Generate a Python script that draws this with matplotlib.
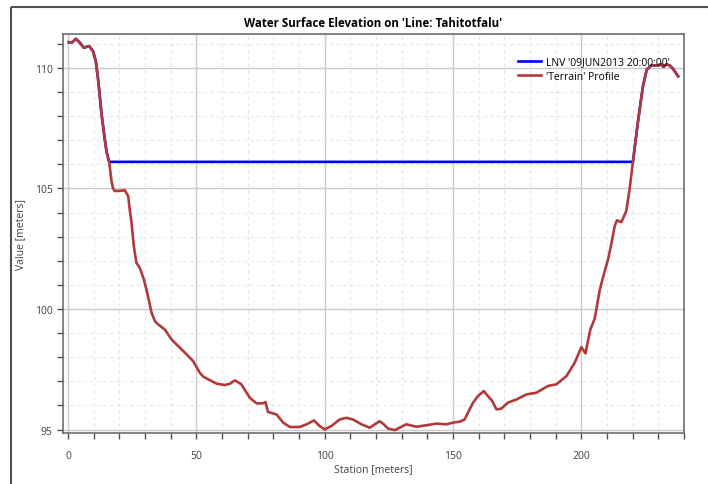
import matplotlib
matplotlib.use("Agg")
import matplotlib.pyplot as plt
from matplotlib.lines import Line2D
from matplotlib.ticker import MultipleLocator
import numpy as np

plt.rcParams['font.family'] = ['Open Sans', 'DejaVu Sans']

# terrain profile (station m, elevation m)
station = [0.3, 1.5, 3.0, 4.5, 6.1, 8.2, 9.7, 10.8, 11.7, 13.0, 14.2, 15.0, 16.0,
           16.9, 17.5, 18.2, 20.1, 22.1, 23.4, 24.0, 24.7, 25.6, 26.6, 27.9, 29.5,
           30.8, 32.5, 33.8, 35.1, 37.7, 40.3, 42.9, 45.5, 48.7, 50.0, 51.3, 52.6,
           55.2, 58.0, 61.0, 63.0, 65.0, 67.5, 70.8, 73.4, 75.9, 76.9, 77.9, 81.2,
           83.8, 86.4, 90.3, 92.9, 95.8, 98.0, 100.0, 102.6, 105.8, 108.5, 111.0,
           114.3, 117.5, 119.5, 121.4, 123.0, 124.7, 127.3, 129.2, 131.8, 135.7,
           139.6, 143.5, 147.4, 150.0, 152.6, 154.5, 155.8, 157.8, 159.7, 162.0,
           163.6, 165.3, 166.9, 168.8, 171.4, 174.7, 178.6, 182.5, 187.0, 190.3,
           194.2, 197.4, 200.0, 201.6, 202.3, 203.5, 205.2, 207.1, 208.4, 210.4,
           211.5, 213.0, 213.9, 215.6, 217.5, 218.8, 220.1, 222.0, 224.0, 225.5,
           227.3, 229.8, 231.1, 232.0, 233.1, 234.4, 235.7, 237.7]
elevation = [111.06, 111.05, 111.2, 111.05, 110.83, 110.9, 110.69, 110.27, 109.5,
             108.1, 107.1, 106.5, 106.1, 105.3, 105.0, 104.89, 104.9, 104.92,
             104.68, 104.13, 103.58, 102.6, 101.92, 101.71, 101.23, 100.68, 99.85,
             99.5, 99.36, 99.15, 98.74, 98.46, 98.19, 97.84, 97.6, 97.36, 97.2,
             97.05, 96.9, 96.85, 96.9, 97.04, 96.88, 96.32, 96.09, 96.09, 96.14,
             95.73, 95.63, 95.29, 95.11, 95.11, 95.22, 95.38, 95.15, 95.01, 95.15,
             95.42, 95.49, 95.42, 95.22, 95.08, 95.22, 95.35, 95.22, 95.04, 94.98,
             95.08, 95.22, 95.12, 95.18, 95.25, 95.22, 95.29, 95.33, 95.42, 95.7,
             96.12, 96.39, 96.6, 96.39, 96.18, 95.84, 95.87, 96.12, 96.25, 96.46,
             96.53, 96.81, 96.88, 97.22, 97.77, 98.42, 98.16, 98.53, 99.15, 99.6,
             100.75, 101.3, 102.06, 102.6, 103.44, 103.68, 103.6, 104.06, 104.96,
             106.1, 107.72, 109.24, 109.93, 110.1, 110.1, 110.14, 110.04, 110.14,
             110.1, 109.96, 109.65]

wse = 106.1
wse_label = "LNV '09JUN2013 20:00:00'"
terrain_label = "'Terrain' Profile"

station = np.array(station)
elevation = np.array(elevation)
# water line follows the ground where dry
water = np.maximum(elevation, wse)

fig = plt.figure(figsize=(7.08, 4.85), dpi=100)
ax = fig.add_axes([63 / 708, 1 - 434 / 485, (684 - 63) / 708, (434 - 35) / 485])

ax.plot(station, water, color='#0000ff', lw=1.9, label=wse_label, zorder=3)
ax.plot(station, elevation, color='#b03a3c', lw=1.9, label=terrain_label, zorder=4,
        solid_joinstyle='round')

ax.set_xlim(-2, 240)
ax.set_ylim(94.86, 111.4)
ax.xaxis.set_major_locator(MultipleLocator(50))
ax.xaxis.set_minor_locator(MultipleLocator(10))
ax.yaxis.set_major_locator(MultipleLocator(5))
ax.yaxis.set_minor_locator(MultipleLocator(1))
ax.grid(which='major', color='#cacaca', lw=1.0, ls='-')
ax.grid(which='minor', color='#e6e6e6', lw=0.8, ls=(0, (3, 3)))
ax.set_axisbelow(True)

for sp in ax.spines.values():
    sp.set_color('#6e6e6e')
    sp.set_linewidth(1.2)
ax.tick_params(which='both', direction='out', length=4, width=1, color='#505050',
               labelsize=7.5, labelcolor='#404040')
ax.tick_params(axis='x', pad=8)

ax.set_xlabel('Station [meters]', fontsize=7.5, color='#404040', labelpad=2)
ax.set_ylabel('Value [meters]', fontsize=7.5, color='#404040', labelpad=6)
ax.set_title("Water Surface Elevation on 'Line: Tahitotfalu'", fontsize=8.3,
             fontweight='bold', pad=6)

ax.legend(loc='upper right', frameon=False, fontsize=7.5, handlelength=2.2,
          handletextpad=0.4, labelspacing=0.3, borderaxespad=1.0,
          bbox_to_anchor=(1.0, 0.98))

# outer frame of the dialog
fig.add_artist(Line2D([11 / 708, 11 / 708], [0, 1 - 8 / 485], color='#505050',
                      lw=1.5, solid_capstyle='butt'))
fig.add_artist(Line2D([11 / 708, 1], [1 - 8 / 485, 1 - 8 / 485], color='#505050',
                      lw=1.5, solid_capstyle='butt'))

fig.savefig('out.png', dpi=100)
